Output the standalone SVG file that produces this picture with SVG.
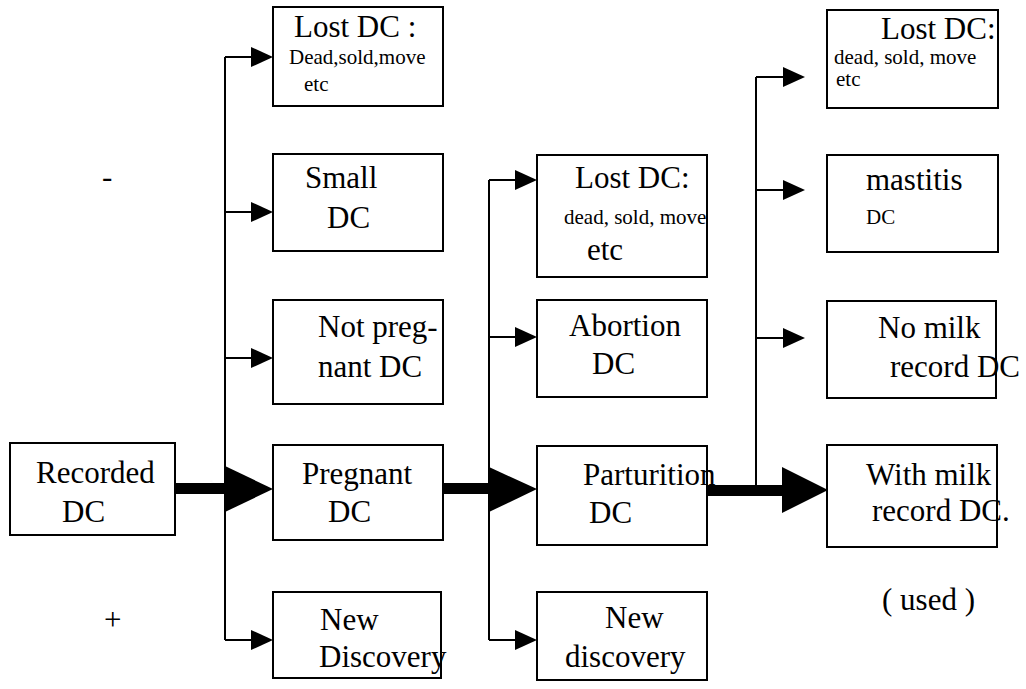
<svg xmlns="http://www.w3.org/2000/svg" width="1026" height="689" viewBox="0 0 1026 689">
<style>
.box{fill:none;stroke:#000;stroke-width:2}
text{font-family:'Liberation Serif','DejaVu Serif','Times New Roman',serif;fill:#000}
.t{font-size:31px}
.s{font-size:21px}
.ln{fill:none;stroke:#000;stroke-width:2}
.hd{fill:#000;stroke:none}
</style>
<rect width="1026" height="689" fill="#fff"/>
<g id="connectors">
  <path class="ln" d="M225 57 V640"/>
  <path class="ln" d="M225 57 H254 M225 212 H254 M225 358 H254 M225 640 H254"/>
  <polygon class="hd" points="251,47 273,57 251,67"/>
  <polygon class="hd" points="251,202 273,212 251,222"/>
  <polygon class="hd" points="251,348 273,358 251,368"/>
  <polygon class="hd" points="251,630 273,640 251,650"/>
  <rect class="hd" x="175" y="483" width="52" height="11"/>
  <polygon class="hd" points="225,466 273,489 225,512"/>
  <path class="ln" d="M489 180 V640"/>
  <path class="ln" d="M489 180 H517 M489 337 H517 M489 640 H517"/>
  <polygon class="hd" points="515,170 537,180 515,190"/>
  <polygon class="hd" points="515,327 537,337 515,347"/>
  <polygon class="hd" points="515,630 537,640 515,650"/>
  <rect class="hd" x="443" y="483" width="48" height="11"/>
  <polygon class="hd" points="489,467 537,489 489,512"/>
  <path class="ln" d="M756 77 V488"/>
  <path class="ln" d="M756 77 H785 M756 190 H785 M756 338 H785"/>
  <polygon class="hd" points="783,67 805,77 783,87"/>
  <polygon class="hd" points="783,180 805,190 783,200"/>
  <polygon class="hd" points="783,328 805,338 783,348"/>
  <rect class="hd" x="707" y="485" width="77" height="11"/>
  <polygon class="hd" points="782,467 828,490 782,513"/>
</g>
<g id="recorded">
  <rect class="box" x="10" y="443" width="165" height="92"/>
  <text class="t" x="36" y="483">Recorded</text>
  <text class="t" x="62" y="522">DC</text>
</g>
<g id="c1-lost">
  <rect class="box" x="273" y="7" width="170" height="99"/>
  <text class="t" x="294" y="37">Lost DC :</text>
  <text class="s" x="289" y="64">Dead,sold,move</text>
  <text class="s" x="304" y="91">etc</text>
</g>
<g id="c1-small">
  <rect class="box" x="273" y="154" width="170" height="97"/>
  <text class="t" x="305" y="188">Small</text>
  <text class="t" x="327" y="228">DC</text>
</g>
<g id="c1-notpreg">
  <rect class="box" x="273" y="300" width="170" height="104"/>
  <text class="t" x="318" y="337">Not preg-</text>
  <text class="t" x="318" y="377">nant DC</text>
</g>
<g id="c1-preg">
  <rect class="box" x="273" y="445" width="170" height="95"/>
  <text class="t" x="302" y="484">Pregnant</text>
  <text class="t" x="328" y="522">DC</text>
</g>
<g id="c1-new">
  <rect class="box" x="273" y="592" width="168" height="86"/>
  <text class="t" x="320" y="630">New</text>
  <text class="t" x="319" y="667">Discovery</text>
</g>
<g id="c2-lost">
  <rect class="box" x="537" y="155" width="170" height="122"/>
  <text class="t" x="575" y="188">Lost DC:</text>
  <text class="s" x="564" y="224">dead, sold, move</text>
  <text class="t" x="587" y="260">etc</text>
</g>
<g id="c2-abort">
  <rect class="box" x="537" y="300" width="170" height="97"/>
  <text class="t" x="569" y="336">Abortion</text>
  <text class="t" x="592" y="374">DC</text>
</g>
<g id="c2-part">
  <rect class="box" x="537" y="446" width="170" height="99"/>
  <text class="t" x="583" y="485">Parturition</text>
  <text class="t" x="589" y="523">DC</text>
</g>
<g id="c2-new">
  <rect class="box" x="537" y="592" width="170" height="88"/>
  <text class="t" x="605" y="628">New</text>
  <text class="t" x="565" y="667">discovery</text>
</g>
<g id="c3-lost">
  <rect class="box" x="827" y="10" width="171" height="98"/>
  <text class="t" x="881" y="39">Lost DC:</text>
  <text class="s" x="834" y="64">dead, sold, move</text>
  <text class="s" x="836" y="86">etc</text>
</g>
<g id="c3-mastitis">
  <rect class="box" x="827" y="155" width="171" height="97"/>
  <text class="t" x="866" y="190">mastitis</text>
  <text class="s" x="866" y="224">DC</text>
</g>
<g id="c3-nomilk">
  <rect class="box" x="827" y="301" width="169" height="97"/>
  <text class="t" x="878" y="338">No milk</text>
  <text class="t" x="890" y="377">record DC</text>
</g>
<g id="c3-withmilk">
  <rect class="box" x="827" y="445" width="170" height="102"/>
  <text class="t" x="866" y="485">With milk</text>
  <text class="t" x="872" y="521">record DC.</text>
</g>
<text class="t" x="882" y="610">( used )</text>
<text class="t" x="102" y="187">-</text>
<text class="t" x="104" y="630">+</text>
</svg>
